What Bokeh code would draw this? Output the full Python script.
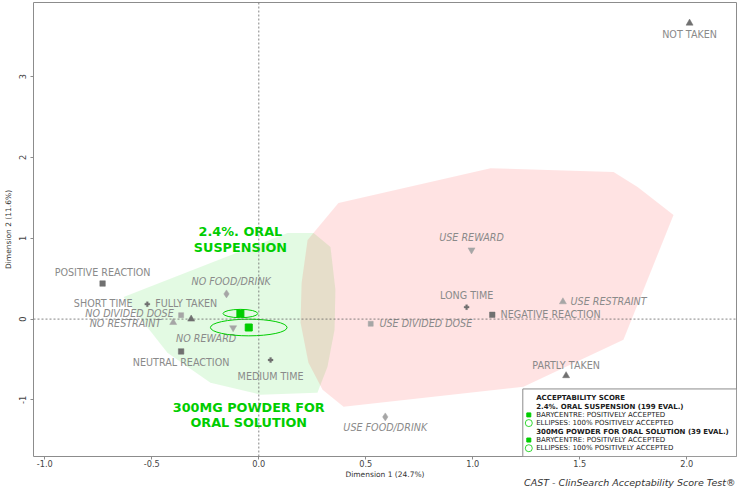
from bokeh.plotting import figure
from bokeh.models import Span, Label, FixedTicker, PrintfTickFormatter, Range1d
from bokeh.core.properties import value
from bokeh.embed import file_html
from bokeh.resources import INLINE

# ---------------- data ----------------
modalities = ["POSITIVE REACTION", "NEUTRAL REACTION", "NEGATIVE REACTION",
              "SHORT TIME", "MEDIUM TIME", "LONG TIME",
              "FULLY TAKEN", "PARTLY TAKEN", "NOT TAKEN",
              "NO DIVIDED DOSE", "USE DIVIDED DOSE",
              "NO RESTRAINT", "USE RESTRAINT",
              "NO FOOD/DRINK", "USE FOOD/DRINK",
              "NO REWARD", "USE REWARD"]
dim1 = [-0.730, -0.363, 1.091,
        -0.521, 0.055, 0.971,
        -0.316, 1.436, 2.013,
        -0.363, 0.523,
        -0.400, 1.421,
        -0.151, 0.591,
        -0.120, 0.994]
dim2 = [0.440, -0.400, 0.053,
        0.185, -0.506, 0.148,
        0.000, -0.700, 3.662,
        0.049, -0.058,
        -0.042, 0.214,
        0.312, -1.210,
        -0.107, 0.856]
variable = (["reaction"] * 3 + ["time"] * 3 + ["taken"] * 3 +
            ["divided"] * 2 + ["restraint"] * 2 + ["food"] * 2 + ["reward"] * 2)

formulation_labels = ["2.4%. ORAL\nSUSPENSION", "300MG POWDER FOR\nORAL SOLUTION"]
legend_names = ["2.4%. ORAL SUSPENSION", "300MG POWDER FOR ORAL SOLUTION"]
n_evals = [199, 39]
bary_x = [-0.086, -0.047]
bary_y = [0.069, -0.104]
ellipse_w = [0.162, 0.358]
ellipse_h = [0.103, 0.206]

# acceptability hulls (positively accepted / not accepted)
hull_pos_x = [-0.632, 0.134, 0.256, 0.335, 0.358, 0.354, 0.321, 0.274, 0.008, -0.226, -0.427]
hull_pos_y = [0.275, 1.065, 1.065, 0.893, 0.362, -0.132, -0.589, -0.910, -0.935, -0.787, -0.416]
hull_neg_x = [0.372, 1.083, 1.658, 1.770, 1.938, 1.704, 1.237, 0.396, 0.298, 0.232, 0.195, 0.200, 0.228]
hull_neg_y = [1.436, 1.868, 1.819, 1.633, 1.288, -0.256, -0.836, -1.083, -0.873, -0.540, -0.046, 0.448, 0.979]

x_ticks = [-1.0, -0.5, 0.0, 0.5, 1.0, 1.5, 2.0]
y_ticks = [-1, 0, 1, 2, 3]
caption = "CAST - ClinSearch Acceptability Score Test®"

# ---------------- styles / layout ----------------
FONT = "DejaVu Sans"
GREEN = "#00cd00"
DARK = "#707070"
LIGHT = "#a6a6a6"
LABEL_C = "#8a8a8a"

marker_style = {
    "reaction": ("square", 5.5, DARK),
    "time": ("plus", 5, DARK),
    "taken": ("triangle", 7, DARK),
    "divided": ("square", 5, LIGHT),
    "restraint": ("triangle", 7, LIGHT),
    "food": ("diamond", 8, LIGHT),
    "reward": ("inverted_triangle", 7, LIGHT),
}
italic_vars = {"divided", "restraint", "food", "reward"}
# label placement: (align, dx, dy) in screen pixels relative to the point
label_place = {
    "POSITIVE REACTION": ("center", 0, -11),
    "NEUTRAL REACTION": ("center", 0, 10.7),
    "NEGATIVE REACTION": ("left", 8.3, -0.7),
    "SHORT TIME": ("right", -14.7, -1),
    "MEDIUM TIME": ("center", 0, 17),
    "LONG TIME": ("center", 0, -11.3),
    "FULLY TAKEN": ("center", -5, -16),
    "PARTLY TAKEN": ("center", 0, -10.3),
    "NOT TAKEN": ("center", 0, 11),
    "NO DIVIDED DOSE": ("right", -7.4, -2),
    "USE DIVIDED DOSE": ("left", 8.7, 0),
    "NO RESTRAINT": ("right", -12, 1.3),
    "USE RESTRAINT": ("left", 7.7, 0),
    "NO FOOD/DRINK": ("center", 4.7, -12.3),
    "USE FOOD/DRINK": ("center", 0, 11),
    "NO REWARD": ("center", -27, 10.3),
    "USE REWARD": ("center", 0, -12.7),
}
form_label_dy = [[-82, -66.4], [79.6, 94.8]]

W, H = 740, 492
B_LEFT, B_RIGHT, B_TOP, B_BOTTOM = 33, 4, 2, 35
X0_PX, PX_X = 258.3, 214.0   # screen px of x=0, px per unit
Y0_PX, PX_Y = 319.3, 81.0


def px2x(px):
    return (px - X0_PX) / PX_X


def py2y(py):
    return (Y0_PX - py) / PX_Y


frame_l = B_LEFT
frame_r = W - B_RIGHT
frame_t = B_TOP
frame_b = H - B_BOTTOM

p = figure(width=W, height=H, output_backend="svg", toolbar_location=None,
           x_range=Range1d(px2x(frame_l), px2x(frame_r)),
           y_range=Range1d(py2y(frame_b), py2y(frame_t)),
           min_border_left=B_LEFT, min_border_right=B_RIGHT,
           min_border_top=B_TOP, min_border_bottom=B_BOTTOM)
p.grid.visible = False
p.outline_line_color = "#8c8c8c"
p.outline_line_width = 1
p.background_fill_color = "white"
p.border_fill_color = "white"

for ax in (p.xaxis[0], p.yaxis[0]):
    ax.axis_line_color = None
    ax.major_tick_line_color = "#8c8c8c"
    ax.minor_tick_line_color = None
    ax.major_tick_in = 0
    ax.major_tick_out = 3
    ax.major_label_text_font = FONT
    ax.major_label_text_font_size = "8.2px"
    ax.major_label_text_color = "#444444"
    ax.axis_label_text_font = FONT
    ax.axis_label_text_font_size = "7.5px"
    ax.axis_label_text_font_style = "normal"
    ax.axis_label_text_color = "#333333"

p.xaxis.ticker = FixedTicker(ticks=x_ticks)
p.xaxis.formatter = PrintfTickFormatter(format="%.1f")
p.xaxis.major_label_standoff = 0
p.xaxis.axis_label = "Dimension 1 (24.7%)"
p.xaxis.axis_label_standoff = 0

p.yaxis.ticker = FixedTicker(ticks=y_ticks)
p.yaxis.formatter = PrintfTickFormatter(format="%d")
p.yaxis.major_label_orientation = "vertical"
p.yaxis.major_label_standoff = 4
p.yaxis.axis_label = "Dimension 2 (11.6%)"
p.yaxis.axis_label_standoff = 4

# hulls
p.patch(hull_pos_x, hull_pos_y, fill_color=GREEN, fill_alpha=0.11, line_color=None)
p.patch(hull_neg_x, hull_neg_y, fill_color="#ff0000", fill_alpha=0.11, line_color=None)

# reference lines
p.add_layout(Span(location=0, dimension="height", line_color="#666666",
                  line_dash="2 2", line_width=0.8))
p.add_layout(Span(location=0, dimension="width", line_color="#666666",
                  line_dash="2 2", line_width=0.8))

# modality points
for var, (marker, size, color) in marker_style.items():
    idx = [i for i, v in enumerate(variable) if v == var]
    p.scatter([dim1[i] for i in idx], [dim2[i] for i in idx], marker=marker,
              size=size, fill_color=color, line_color=color,
              line_width=0.3 if marker == "plus" else 0.5)

# modality labels
for i, name in enumerate(modalities):
    align, dx, dy = label_place[name]
    p.text([dim1[i]], [dim2[i]], text=[name], x_offset=dx, y_offset=dy,
           text_align=align, text_baseline="middle",
           text_font=value(FONT), text_font_size="9.6px", text_color=LABEL_C,
           text_font_style="italic" if variable[i] in italic_vars else "normal")

# formulations: ellipses, barycentres, labels
p.ellipse(bary_x, bary_y, width=ellipse_w, height=ellipse_h,
          fill_color=None, line_color=GREEN, line_width=1)
p.scatter(bary_x, bary_y, marker="square", size=7, fill_color=GREEN, line_color=GREEN)
for k in range(len(formulation_labels)):
    for line, dy in zip(formulation_labels[k].split("\n"), form_label_dy[k]):
        p.text([bary_x[k]], [bary_y[k]], text=[line], y_offset=dy,
               text_align="center", text_baseline="middle",
               text_font=value(FONT), text_font_size="12.8px",
               text_font_style="bold", text_color=GREEN)

# legend box
leg_l, leg_t = px2x(522.3), py2y(389.3)
p.quad(left=[leg_l], right=[px2x(frame_r)], top=[leg_t], bottom=[py2y(frame_b)],
       fill_color="white", line_color="#8c8c8c", line_width=1)
legend_rows = [
    ("ACCEPTABILITY SCORE", "bold", None),
    (f"{legend_names[0]} ({n_evals[0]} EVAL.)", "bold", None),
    ("BARYCENTRE: POSITIVELY ACCEPTED", "normal", "square"),
    ("ELLIPSES: 100% POSITIVELY ACCEPTED", "normal", "circle"),
    (f"{legend_names[1]} ({n_evals[1]} EVAL.)", "bold", None),
    ("BARYCENTRE: POSITIVELY ACCEPTED", "normal", "square"),
    ("ELLIPSES: 100% POSITIVELY ACCEPTED", "normal", "circle"),
]
row_py = [398.5, 407, 415.3, 423.5, 432.3, 440.5, 448.7]
for (txt, style, mk), py in zip(legend_rows, row_py):
    ty = py2y(py)
    p.text([px2x(535.7)], [ty], text=[txt], text_align="left",
           text_baseline="middle", text_font=value(FONT), text_font_size="7px",
           text_font_style=style, text_color="#1a1a1a")
    if mk == "square":
        p.scatter([px2x(528.3)], [ty], marker="square", size=4,
                  fill_color=GREEN, line_color=GREEN)
    elif mk == "circle":
        p.scatter([px2x(528.3)], [ty], marker="circle", size=7,
                  fill_color=None, line_color=GREEN, line_width=0.8)

# caption, in its own bottom side panel (screen units relative to that panel)
p.add_layout(Label(x=W - B_RIGHT - B_LEFT - 1, y=10, x_units="screen", y_units="screen",
                   text=caption, text_align="right", text_baseline="middle",
                   text_font=FONT, text_font_size="9.5px", text_font_style="italic",
                   text_color="#333333"), "below")

open("out.html", "w").write(file_html(p, INLINE))
